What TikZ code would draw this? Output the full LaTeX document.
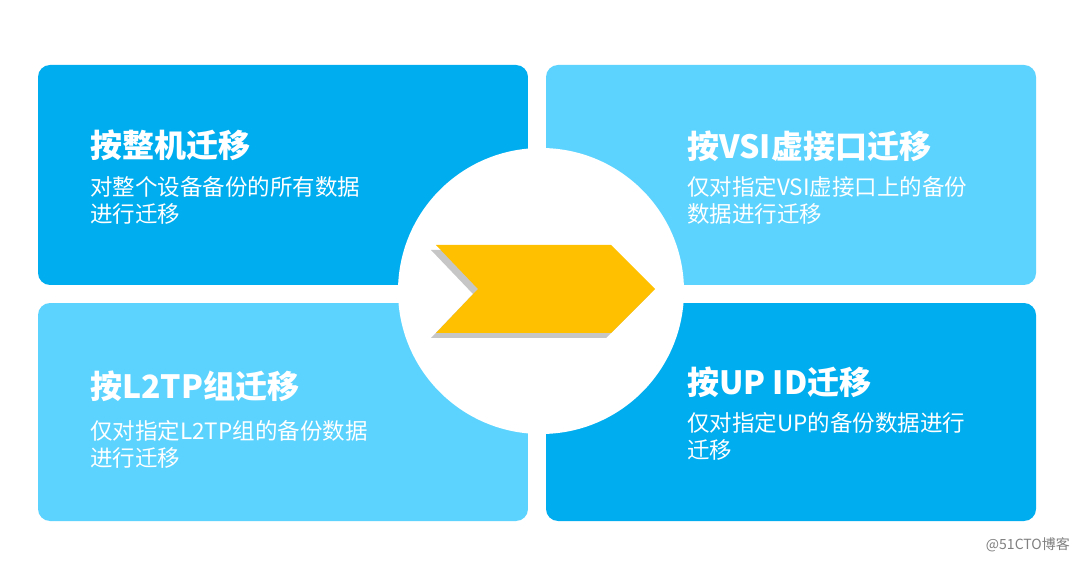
\documentclass[tikz,border=0pt]{standalone}
\usepackage{fontspec}
\setmainfont{Noto Sans CJK SC}
\definecolor{darkblue}{HTML}{00AEEF}
\definecolor{lightblue}{HTML}{5CD3FE}
\definecolor{arrowyellow}{HTML}{FFC000}
\tikzset{
  panel/.style={rounded corners=12pt, draw=none},
  title/.style={anchor=west, text=white, font=\fontsize{32}{36}\selectfont\bfseries, inner sep=0pt},
  body/.style={anchor=west, text=white, align=left, inner sep=0pt,
    font=\fontsize{22.5}{27}\selectfont}
}
\begin{document}
\begin{tikzpicture}[x=1pt,y=-1pt]
      \useasboundingbox[fill=white] (0,0) rectangle (1080,561);
      % four panels
      \fill[panel, darkblue] (38,65) rectangle (528,285);
      \fill[panel, lightblue] (546,65) rectangle (1036,285);
      \fill[panel, lightblue] (38,303) rectangle (528,521);
      \fill[panel, darkblue] (546,303) rectangle (1036,521);
      % centre disc and gaps
      \fill[white] (528,0) rectangle (546,561);
      \fill[white] (0,285) rectangle (1080,303);
      \fill[white] (541,291) circle (143);
      % chevron
      \fill[gray!45] (431,250) -- (606,250) -- (650,294) -- (606,338) -- (431,338) -- (473,294) -- cycle;
      \fill[arrowyellow] (436,245) -- (611,245) -- (655,289) -- (611,333) -- (436,333) -- (478,289) -- cycle;
      % texts
      \node[title] (t1) at (90,145) {按整机迁移};
      \node[body] (b1) at (90,200) {对整个设备备份的所有数据\\进行迁移};
      \node[title] (t2) at (687,146) {按VSI虚接口迁移};
      \node[body] (b2) at (687,200) {仅对指定VSI虚接口上的备份\\数据进行迁移};
      \node[title] (t3) at (90,386) {按L2TP组迁移};
      \node[body] (b3) at (90,444) {仅对指定L2TP组的备份数据\\进行迁移};
      \node[title] (t4) at (687,382) {按UP ID迁移};
      \node[body] (b4) at (687,436) {仅对指定UP的备份数据进行\\迁移};
      \node[anchor=east, text=gray, font=\fontsize{14}{16}\selectfont, inner sep=0pt] (mark) at (1070,545) {@51CTO博客};
    \end{tikzpicture}
\end{document}
